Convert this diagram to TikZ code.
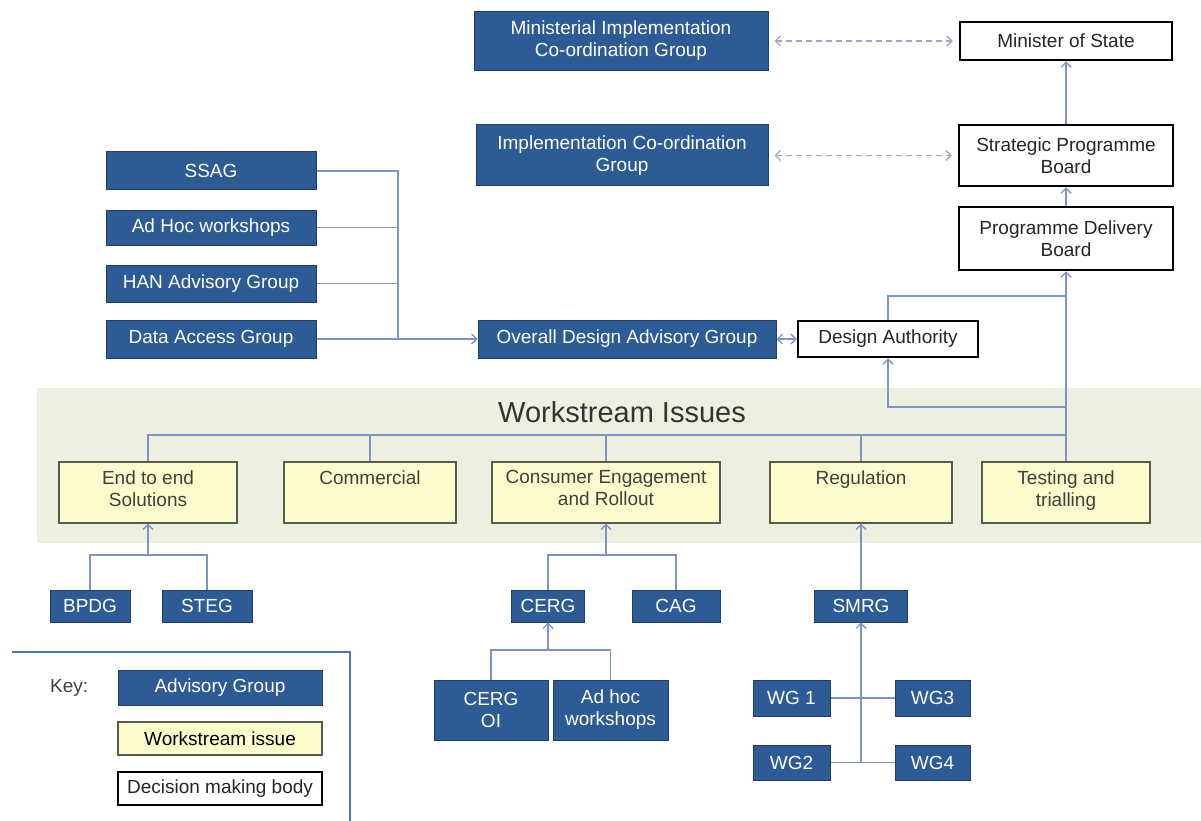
\documentclass[tikz,border=0pt]{standalone}
\usepackage{fontspec}
\setmainfont{Liberation Sans}
\usetikzlibrary{arrows.meta,calc}
\definecolor{advblue}{HTML}{2D5B95}
\definecolor{advedge}{HTML}{1F3F6A}
\definecolor{conn}{HTML}{7D95C6}
\definecolor{dashc}{HTML}{9AAAC8}
\definecolor{bandgreen}{HTML}{EDF0E1}
\definecolor{wsfill}{HTML}{FCFBCB}
\definecolor{wsedge}{HTML}{5A5A50}
\definecolor{keyblue}{HTML}{4C74B8}
\tikzset{
 base/.style={rectangle, inner sep=0pt, align=center, font=\fontsize{19}{22}\selectfont},
 adv/.style={base, fill=advblue, draw=advedge, line width=1pt, text=white},
 dec/.style={base, fill=white, draw=black, line width=2.5pt, text=black!85},
 ws/.style={base, fill=wsfill, draw=wsedge, line width=1.2pt},
 wstext/.style={base, text=black!75, anchor=north},
 conline/.style={draw=conn, line width=1.4pt},
 arr/.style={conline, -{Straight Barb[length=5pt,width=10pt]}},
 dbarr/.style={conline, {Straight Barb[length=5pt,width=10pt]}-{Straight Barb[length=5pt,width=10pt]}},
 darr/.style={draw=dashc, line width=1.4pt, dash pattern=on 6pt off 4pt, {Straight Barb[length=5pt,width=10pt]}-{Straight Barb[length=5pt,width=10pt]}, shorten <=6pt, shorten >=6pt}
}
\begin{document}
\begin{tikzpicture}[x=1pt,y=-1pt]
\useasboundingbox (0,0) rectangle (1201,821);
% band
\fill[bandgreen] (37,388) rectangle (1201,543);
\node[font=\fontsize{29}{32}\selectfont, text=black!80] (wstitle) at (622,412) {Workstream Issues};
% top right column
\node[adv, minimum width=294pt, minimum height=59pt] (micg) at (621,41) {Ministerial Implementation\\Co-ordination Group};
\node[dec, minimum width=212pt, minimum height=38pt] (mos) at (1066,41) {Minister of State};
\node[adv, minimum width=292pt, minimum height=61pt] (icg) at (622,155.5) {Implementation Co-ordination\\Group};
\node[dec, minimum width=214pt, minimum height=61pt] (spb) at (1066,155.5) {Strategic Programme\\Board};
\node[dec, minimum width=214pt, minimum height=63pt] (pdb) at (1066,238.5) {Programme Delivery\\Board};
% advisory groups left
\node[adv, minimum width=210pt, minimum height=38pt] (ssag) at (211,171) {SSAG};
\node[adv, minimum width=210pt, minimum height=35pt] (adhoc) at (211,227.5) {Ad Hoc workshops};
\node[adv, minimum width=210pt, minimum height=37pt] (han) at (211,283.5) {HAN Advisory Group};
\node[adv, minimum width=210pt, minimum height=38pt] (dag) at (211,339) {Data Access Group};
\node[adv, minimum width=298pt, minimum height=38pt] (odag) at (627,339) {Overall Design Advisory Group};
\node[dec, minimum width=180pt, minimum height=36pt] (da) at (888,339) {Design Authority};
% workstream boxes
\node[ws, minimum width=178pt, minimum height=61pt] (e2e) at (148,492.5) {};
\node[ws, minimum width=172pt, minimum height=61pt] (com) at (370,492.5) {};
\node[ws, minimum width=228pt, minimum height=61pt] (cons) at (606,492.5) {};
\node[ws, minimum width=182pt, minimum height=61pt] (reg) at (861,492.5) {};
\node[ws, minimum width=168pt, minimum height=61pt] (tst) at (1066,492.5) {};
\node[wstext] (e2et) at ([yshift=-9pt]e2e.north) {End to end\\Solutions};
\node[wstext] (comt) at ([yshift=-9pt]com.north) {Commercial};
\node[wstext] (const) at ([yshift=-9pt]cons.north) {Consumer Engagement\\and Rollout};
\node[wstext] (regt) at ([yshift=-9pt]reg.north) {Regulation};
\node[wstext] (tstt) at ([yshift=-9pt]tst.north) {Testing and\\trialling};
% bottom groups
\node[adv, minimum width=80pt, minimum height=32pt] (bpdg) at (90,606) {BPDG};
\node[adv, minimum width=90pt, minimum height=32pt] (steg) at (207,606) {STEG};
\node[adv, minimum width=73pt, minimum height=32pt] (cerg) at (548,606) {CERG};
\node[adv, minimum width=88pt, minimum height=32pt] (cag) at (676,606) {CAG};
\node[adv, minimum width=114pt, minimum height=60pt] (cergoi) at (491,710) {CERG\\OI};
\node[adv, minimum width=115pt, minimum height=60pt] (adhoc2) at (610.5,710) {Ad hoc\\workshops};
\node[adv, minimum width=93pt, minimum height=32pt] (smrg) at (861,606) {SMRG};
\node[adv, minimum width=77pt, minimum height=36pt] (wg1) at (791.5,698) {WG 1};
\node[adv, minimum width=75pt, minimum height=36pt] (wg3) at (932.5,698) {WG3};
\node[adv, minimum width=77pt, minimum height=35pt] (wg2) at (791.5,762.5) {WG2};
\node[adv, minimum width=75pt, minimum height=35pt] (wg4) at (932.5,762.5) {WG4};
% key
\coordinate (k1) at (12,652);
\coordinate (k2) at (350,652);
\coordinate (k3) at (350,821);
\draw[keyblue, line width=2pt] (k1) -- (k2) -- (k3);
\node[base, text=black!75, anchor=west] (keylbl) at (50,688) {Key:};
\node[adv, minimum width=204pt, minimum height=35pt] (kadv) at (220,687.5) {Advisory Group};
\node[ws, minimum width=204pt, minimum height=33pt] (kws) at (220,738.5) {Workstream issue};
\node[dec, minimum width=204pt, minimum height=33pt] (kdec) at (220,788.5) {Decision making body};
% helper y levels
\coordinate (yDA) at (0,296);
\coordinate (yDB) at (0,407);
\coordinate (yBus) at (0,435);
\coordinate (yB1) at (0,555);
\coordinate (yB2) at (0,650);
\coordinate (busTop) at (398,171);
% connectors top
\draw[darr] (micg.east) -- (mos.west);
\draw[darr] (icg.east) -- (spb.west);
\draw[arr] (spb.north) -- (mos.south);
\draw[arr] (pdb.north) -- (spb.south);
% advisory bus
\draw[conline] (ssag.east) -- (busTop) -- (busTop |- dag.east);
\draw[conline] (adhoc.east) -- (adhoc.east -| busTop);
\draw[conline] (han.east) -- (han.east -| busTop);
\draw[arr] (dag.east) -- (odag.west);
\draw[dbarr] (odag.east) -- (da.west);
% design authority links
\draw[conline] (da.north) |- (pdb.south |- yDA);
\draw[arr] (tst.north) -- (pdb.south);
\draw[arr] (pdb.south |- yDB) -| (da.south);
% workstream bus
\draw[conline] (e2e.north) |- (tst.north |- yBus);
\draw[conline] (com.north) -- (com.north |- yBus);
\draw[conline] (cons.north) -- (cons.north |- yBus);
\draw[conline] (reg.north) -- (reg.north |- yBus);
% bottom trees
\draw[arr] (e2e.south |- yB1) -- (e2e.south);
\draw[conline] (bpdg.north) |- (steg.north |- yB1) -- (steg.north);
\draw[arr] (cons.south |- yB1) -- (cons.south);
\draw[conline] (cerg.north) |- (cag.north |- yB1) -- (cag.north);
\draw[arr] (cerg.south |- yB2) -- (cerg.south);
\draw[conline] (cergoi.north) |- (adhoc2.north |- yB2) -- (adhoc2.north);
\draw[arr] (smrg.north) -- (reg.south);
\draw[arr] (smrg.south |- wg2.east) -- (smrg.south);
\draw[conline] (wg1.east) -- (wg3.west);
\draw[conline] (wg2.east) -- (wg4.west);
\end{tikzpicture}
\end{document}
